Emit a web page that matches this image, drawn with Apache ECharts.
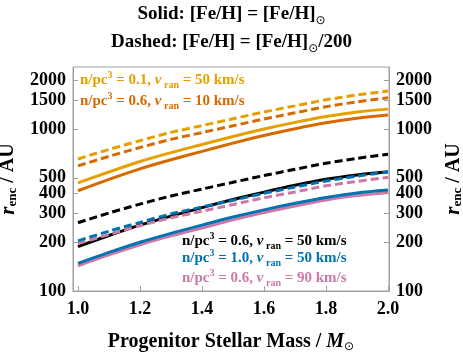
<!DOCTYPE html>
<html>
<head>
<meta charset="utf-8">
<script src="https://cdn.jsdelivr.net/npm/echarts@6/dist/echarts.min.js"></script>
<style>
  html, body { margin: 0; padding: 0; background: #ffffff; }
  #main { width: 463px; height: 354px; }
</style>
</head>
<body>
<div id="main"></div>
<script>
// progenitor mass grid
var mass = [1.0, 1.1, 1.2, 1.3, 1.4, 1.5, 1.6, 1.7, 1.8, 1.9, 2.0];

// r_enc (AU)
var n01v50_dash = [653, 748, 847, 953, 1050, 1156, 1274, 1390, 1514, 1622, 1718];
var n06v10_dash = [592, 678, 769, 863, 951, 1047, 1153, 1259, 1374, 1472, 1560];
var n01v50_sol  = [465, 543, 630, 715, 802, 899, 1000, 1099, 1194, 1274, 1327];
var n06v10_sol  = [416, 489, 568, 646, 728, 818, 912, 1005, 1094, 1167, 1219];
var n06v50_dash = [264, 303, 344, 386, 426, 469, 516, 564, 615, 659, 698];
var n06v50_sol  = [188, 220, 255, 290, 327, 367, 408, 450, 490, 521, 545];
var n10v50_dash = [204, 234, 265, 299, 330, 363, 401, 438, 478, 512, 542];
var n06v90_dash = [196, 223, 253, 283, 311, 342, 376, 409, 446, 475, 504];
var n10v50_sol  = [148, 173, 200, 227, 255, 286, 317, 348, 378, 403, 420];
var n06v90_sol  = [143, 167, 193, 219, 245, 275, 305, 335, 365, 388, 405];

var xTicks = [1.0, 1.2, 1.4, 1.6, 1.8, 2.0];
var yTicks = [100, 200, 300, 400, 500, 1000, 1500, 2000];

var cOrange = '#E69F00', cVerm = '#D66A00', cBlack = '#000000', cBlue = '#0072B2', cPink = '#CC79A7';
var FONT = '"Liberation Serif", "DejaVu Serif", serif';

function pts(ys) {
  return mass.map(function (m, i) { return [m, ys[i]]; });
}
function line(data, color, dashed) {
  return {
    type: 'line', data: pts(data), smooth: 0.3, symbol: 'none', silent: true,
    lineStyle: { color: color, width: 3, type: dashed ? [8, 4] : 'solid', cap: 'butt' }
  };
}

var richT = {
  t: { fontFamily: FONT, fontWeight: 'bold', fontSize: 15, lineHeight: 20 },
  sup: { fontFamily: FONT, fontWeight: 'bold', fontSize: 10, verticalAlign: 'top', lineHeight: 20 },
  it: { fontFamily: FONT, fontWeight: 'bold', fontStyle: 'italic', fontSize: 15, lineHeight: 20 },
  sub: { fontFamily: FONT, fontWeight: 'bold', fontSize: 10, verticalAlign: 'bottom', lineHeight: 17 }
};
function legendText(n, v, color, x, y) {
  var rich = {};
  for (var k in richT) rich[k] = Object.assign({}, richT[k], { fill: color });
  return {
    type: 'text', left: x, top: y - 10,
    style: {
      text: '{t|n/pc}{sup|3}{t| = ' + n + ', }{it|v}{sub| ran}{t| = ' + v + ' km/s}',
      rich: rich, fill: color
    }
  };
}

var titleRich = {
  t: { fontFamily: FONT, fontWeight: 'bold', fontSize: 19, lineHeight: 24, fill: '#000' },
  sub: { fontFamily: '"DejaVu Sans", sans-serif', fontSize: 12, verticalAlign: 'bottom', lineHeight: 20, fill: '#000' }
};

var yName = {
  name: '{r|r}{sub|enc}{t| / AU}',
  nameLocation: 'middle',
  nameRotate: 90,
  nameTextStyle: {
    color: '#000',
    rich: {
      r: { fontFamily: FONT, fontWeight: 'bold', fontStyle: 'italic', fontSize: 21, lineHeight: 22, color: '#000' },
      sub: { fontFamily: FONT, fontWeight: 'bold', fontSize: 13, verticalAlign: 'bottom', lineHeight: 20, color: '#000' },
      t: { fontFamily: FONT, fontWeight: 'bold', fontSize: 20, lineHeight: 22, color: '#000' }
    }
  }
};

function yAxis(pos) {
  return Object.assign({
    type: 'log', position: pos, min: 100, max: 2415, logBase: 10,
    nameGap: 52,
    axisLine: { show: true, lineStyle: { color: '#a0a0a0', width: 1 } },
    axisTick: { show: true, inside: true, length: 5, lineStyle: { color: '#a0a0a0' }, customValues: yTicks },
    minorTick: { show: false },
    splitLine: { show: false },
    axisLabel: {
      customValues: yTicks, margin: 7, color: '#000',
      fontFamily: FONT, fontWeight: 'bold', fontSize: 18,
      formatter: function (v) { return String(Math.round(v)); }
    }
  }, yName);
}

var chart = echarts.init(document.getElementById('main'), null, { renderer: 'canvas' });
chart.setOption({
  animation: false,
  backgroundColor: '#ffffff',
  grid: {
    left: 73, right: 74, top: 67, bottom: 63, outerBoundsMode: 'none',
    show: true, borderColor: '#a0a0a0', borderWidth: 1, backgroundColor: 'transparent'
  },
  xAxis: {
    type: 'value', min: 0.984, max: 2.003,
    name: '{t|Progenitor Stellar Mass / }{it|M}{sub|⊙}',
    nameLocation: 'middle', nameGap: 40,
    nameTextStyle: {
      color: '#000',
      rich: {
        t: { fontFamily: FONT, fontWeight: 'bold', fontSize: 20, lineHeight: 22, color: '#000' },
        it: { fontFamily: FONT, fontWeight: 'bold', fontStyle: 'italic', fontSize: 20, lineHeight: 22, color: '#000' },
        sub: { fontFamily: '"DejaVu Sans", sans-serif', fontSize: 12, verticalAlign: 'bottom', lineHeight: 18, color: '#000' }
      }
    },
    axisLine: { show: true, onZero: false, lineStyle: { color: '#a0a0a0' } },
    axisTick: { show: true, inside: true, length: 5, lineStyle: { color: '#a0a0a0' }, customValues: xTicks },
    splitLine: { show: false },
    axisLabel: {
      customValues: xTicks, margin: 9, color: '#000',
      fontFamily: FONT, fontWeight: 'bold', fontSize: 18,
      formatter: function (v) { return v.toFixed(1); }
    }
  },
  yAxis: [yAxis('left'), Object.assign(yAxis('right'), { nameGap: 52 })],
  series: [
    line(n01v50_dash, cOrange, true),
    line(n06v10_dash, cVerm, true),
    line(n01v50_sol, cOrange, false),
    line(n06v10_sol, cVerm, false),
    line(n06v50_dash, cBlack, true),
    line(n06v50_sol, cBlack, false),
    line(n06v90_sol, cPink, false),
    line(n10v50_sol, cBlue, false),
    line(n06v90_dash, cPink, true),
    line(n10v50_dash, cBlue, true)
  ],
  graphic: [
    { type: 'text', left: 'center', top: 5, style: { text: '{t|Solid: [Fe/H] = [Fe/H]}{sub|⊙}', rich: titleRich } },
    { type: 'text', left: 'center', top: 33, style: { text: '{t|Dashed: [Fe/H] = [Fe/H]}{sub|⊙}{t|/200}', rich: titleRich } },
    legendText('0.1', '50', cOrange, 80, 80),
    legendText('0.6', '10', cVerm, 80, 101),
    legendText('0.6', '50', cBlack, 182, 241),
    legendText('1.0', '50', cBlue, 182, 258),
    legendText('0.6', '90', cPink, 182, 278)
  ]
});
</script>
</body>
</html>
